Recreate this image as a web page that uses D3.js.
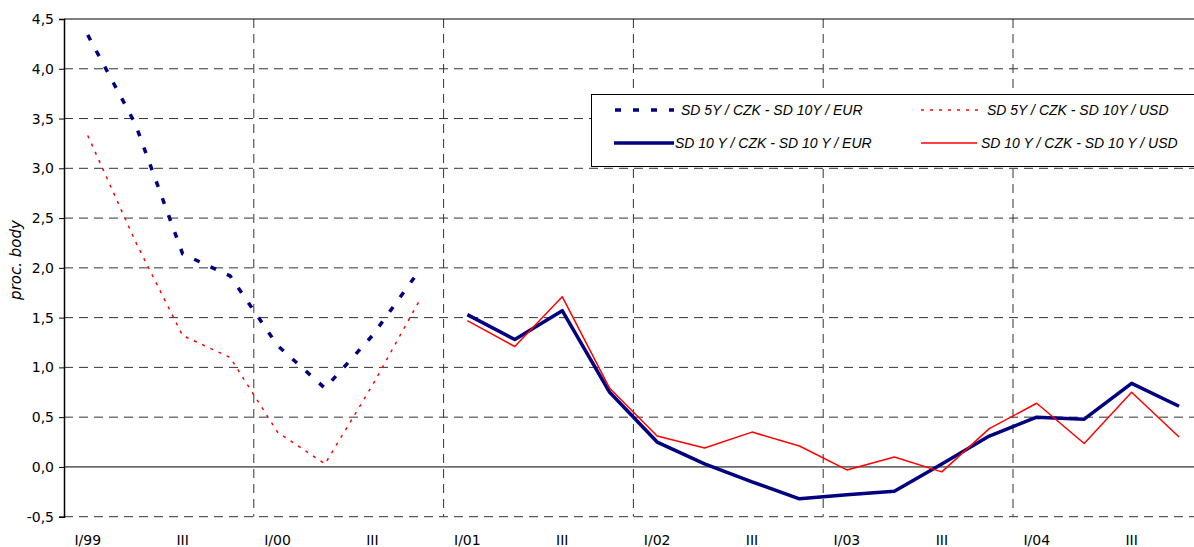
<!DOCTYPE html>
<html>
<head>
<meta charset="utf-8">
<script src="https://cdn.jsdelivr.net/npm/d3@7"></script>
<style>
	body { margin: 0; background: #fff; }
	svg { display: block; }
	.tick text { font-family: "DejaVu Sans", sans-serif; font-size: 14px; fill: #000; }
	.legend text { font-family: "Liberation Sans", Arial, sans-serif; font-size: 14px; font-style: italic; }
</style>
</head>
<body>
<svg id="chart"></svg>
<script>
/* global d3 */

// quarters I/99 .. IV/04
const quarters = [
	'I/99', 'II/99', 'III/99', 'IV/99',
	'I/00', 'II/00', 'III/00', 'IV/00',
	'I/01', 'II/01', 'III/01', 'IV/01',
	'I/02', 'II/02', 'III/02', 'IV/02',
	'I/03', 'II/03', 'III/03', 'IV/03',
	'I/04', 'II/04', 'III/04', 'IV/04',
];

// which quarters get a label and what it says
const xTickQuarters = [ 'I/99', 'III/99', 'I/00', 'III/00', 'I/01', 'III/01', 'I/02', 'III/02', 'I/03', 'III/03', 'I/04', 'III/04' ];
const xTickLabels = [ 'I/99', 'III', 'I/00', 'III', 'I/01', 'III', 'I/02', 'III', 'I/03', 'III', 'I/04', 'III' ];
const yearStarts = [ 'I/00', 'I/01', 'I/02', 'I/03', 'I/04' ];

const yTicks = [ -0.5, 0, 0.5, 1, 1.5, 2, 2.5, 3, 3.5, 4, 4.5 ];

const sd5Eur = [ 4.34, 3.45, 2.14, 1.92, 1.22, 0.79, 1.32, 1.98,
	null, null, null, null, null, null, null, null,
	null, null, null, null, null, null, null, null ];
const sd5Usd = [ 3.33, 2.27, 1.32, 1.10, 0.35, 0.03, 0.82, 1.68,
	null, null, null, null, null, null, null, null,
	null, null, null, null, null, null, null, null ];
const sd10Eur = [ null, null, null, null, null, null, null, null,
	1.53, 1.28, 1.57, 0.75, 0.25, 0.03, -0.15, -0.32,
	-0.28, -0.245, 0.03, 0.31, 0.50, 0.48, 0.84, 0.61 ];
const sd10Usd = [ null, null, null, null, null, null, null, null,
	1.47, 1.21, 1.71, 0.79, 0.31, 0.19, 0.35, 0.21,
	-0.03, 0.10, -0.05, 0.385, 0.64, 0.235, 0.75, 0.30 ];

const seriesNames = [
	'SD 5Y / CZK - SD 10Y / EUR',
	'SD 5Y / CZK - SD 10Y / USD',
	'SD 10 Y / CZK - SD 10 Y / EUR',
	'SD 10 Y / CZK - SD 10 Y / USD',
];

const width = 1194;
const height = 547;
const margin = { left: 64, top: 19 };
const bandW = 47.45;
const plotRight = margin.left + bandW * quarters.length;
const plotBottom = 516.7;

const series = [
	{ values: sd5Eur, color: '#000080', width: 3.5, dash: '6,12' },
	{ values: sd5Usd, color: '#ff0000', width: 1.5, dash: '3,6' },
	{ values: sd10Eur, color: '#000080', width: 3.5, dash: null },
	{ values: sd10Usd, color: '#ff0000', width: 1.5, dash: null },
];

const svg = d3.select( '#chart' ).attr( 'width', width ).attr( 'height', height );

const x = d3.scaleBand().domain( quarters ).range( [ margin.left, plotRight ] ).padding( 0 );
const y = d3.scaleLinear().domain( [ -0.5, 4.5 ] ).range( [ plotBottom, margin.top ] );
const cx = ( q ) => x( q ) + x.bandwidth() / 2;

// horizontal grid (dashed), zero line and top border solid
svg.append( 'g' )
	.selectAll( 'line' )
	.data( yTicks.filter( ( d ) => d !== 0 && d !== 4.5 ) )
	.join( 'line' )
	.attr( 'x1', margin.left ).attr( 'x2', plotRight )
	.attr( 'y1', ( d ) => y( d ) ).attr( 'y2', ( d ) => y( d ) )
	.attr( 'stroke', '#333' )
	.attr( 'stroke-dasharray', '9,6' );

// vertical year gridlines
svg.append( 'g' )
	.selectAll( 'line' )
	.data( yearStarts )
	.join( 'line' )
	.attr( 'x1', ( d ) => x( d ) ).attr( 'x2', ( d ) => x( d ) )
	.attr( 'y1', margin.top ).attr( 'y2', plotBottom )
	.attr( 'stroke', '#333' )
	.attr( 'stroke-dasharray', '9,6' );

svg.append( 'line' )
	.attr( 'x1', margin.left ).attr( 'x2', plotRight )
	.attr( 'y1', y( 4.5 ) ).attr( 'y2', y( 4.5 ) )
	.attr( 'stroke', '#000' );

svg.append( 'line' )
	.attr( 'x1', margin.left ).attr( 'x2', plotRight )
	.attr( 'y1', y( 0 ) ).attr( 'y2', y( 0 ) )
	.attr( 'stroke', '#000' );

// y axis
const yAxis = svg.append( 'g' )
	.attr( 'transform', `translate(${ margin.left },0)` )
	.call(
		d3.axisLeft( y )
			.tickValues( yTicks )
			.tickSize( 5 )
			.tickPadding( 5 )
			.tickFormat( ( d ) => d.toFixed( 1 ).replace( '.', ',' ) )
	);
yAxis.select( '.domain' ).attr( 'stroke', '#000' ).attr( 'stroke-width', 1.5 );
yAxis.selectAll( '.tick line' ).attr( 'stroke', '#000' );

// x labels
const xAxis = svg.append( 'g' )
	.attr( 'transform', `translate(0,${ plotBottom })` )
	.call(
		d3.axisBottom( x )
			.tickValues( xTickQuarters )
			.tickSize( 0 )
			.tickPadding( 18 )
			.tickFormat( ( d ) => xTickLabels[ xTickQuarters.indexOf( d ) ] )
	);
xAxis.select( '.domain' ).remove();

// y label
svg.append( 'text' )
	.attr( 'transform', `translate(21,${ 260 }) rotate(-90)` )
	.attr( 'text-anchor', 'middle' )
	.style( 'font-family', '"DejaVu Sans", sans-serif' )
	.style( 'font-size', '15px' )
	.style( 'font-style', 'italic' )
	.text( 'proc. body' );

// series
const line = d3.line()
	.defined( ( d ) => d !== null )
	.x( ( d, i ) => cx( quarters[ i ] ) )
	.y( ( d ) => y( d ) );

series.forEach( ( s ) => {
	svg.append( 'path' )
		.datum( s.values )
		.attr( 'fill', 'none' )
		.attr( 'stroke', s.color )
		.attr( 'stroke-width', s.width )
		.attr( 'stroke-dasharray', s.dash )
		.attr( 'stroke-linejoin', 'round' )
		.attr( 'd', line );
} );

// legend
const legend = svg.append( 'g' ).attr( 'class', 'legend' );
legend.append( 'rect' )
	.attr( 'x', 591.5 ).attr( 'y', 94.5 )
	.attr( 'width', 620 ).attr( 'height', 72 )
	.attr( 'fill', '#fff' )
	.attr( 'stroke', '#000' );

const legendPos = [
	{ x1: 615, x2: 674, tx: 681, ty: 110 },
	{ x1: 921, x2: 980, tx: 987, ty: 110 },
	{ x1: 614, x2: 674, tx: 675, ty: 143 },
	{ x1: 921, x2: 977, tx: 981, ty: 143 },
];

series.forEach( ( s, i ) => {
	const p = legendPos[ i ];
	legend.append( 'line' )
		.attr( 'x1', p.x1 ).attr( 'x2', p.x2 )
		.attr( 'y1', p.ty ).attr( 'y2', p.ty )
		.attr( 'stroke', s.color )
		.attr( 'stroke-width', s.width )
		.attr( 'stroke-dasharray', s.dash );
	legend.append( 'text' )
		.attr( 'x', p.tx ).attr( 'y', p.ty + 5 )
		.text( seriesNames[ i ] );
} );
</script>
</body>
</html>
